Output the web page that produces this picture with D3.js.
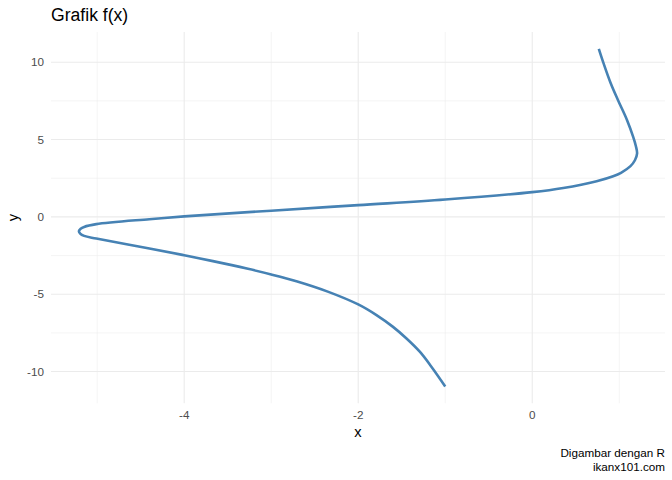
<!DOCTYPE html>
<html>
<head>
<meta charset="utf-8">
<script src="https://cdn.jsdelivr.net/npm/d3@7"></script>
<style>
  body { margin: 0; background: #fff; }
  text { font-family: "Liberation Sans", Arial, sans-serif; }
</style>
</head>
<body>
<svg id="chart" width="672" height="480"></svg>
<script>
// points (y ascending)
const yVals = [-10.96, -9.70, -8.73, -7.86, -7.11, -6.35, -5.66, -4.83, -4.16, -3.72, -3.34, -2.86,
  -2.48, -2.04, -1.40, -1.23, -1.08, -0.92, -0.77, -0.65, -0.47, -0.15, 0.03, 0.40, 0.76, 1.12,
  1.60, 1.87, 2.31, 2.63, 2.85, 3.28, 3.66, 4.1, 4.6, 5.17, 6.25, 7.54, 8.62, 9.92, 10.86]
const xVals = [-1.0, -1.157, -1.29, -1.445, -1.60, -1.79, -2.0, -2.35, -2.71, -3.0, -3.28, -3.67,
  -4.0, -4.40, -5.01, -5.15, -5.195, -5.21, -5.19, -5.15, -5.01, -4.40, -4.0, -3.0, -2.0, -1.0,
  0.0, 0.357, 0.74, 0.93, 1.02, 1.129, 1.18, 1.205, 1.19, 1.16, 1.09, 0.986, 0.903, 0.82, 0.765]

const xTicks = [-4, -2, 0]
const xMinor = [-5, -3, -1, 1]
const yTicks = [-10, -5, 0, 5, 10]
const yMinor = [-7.5, -2.5, 2.5, 7.5]

const pts = yVals.map((y, i) => ({x: xVals[i], y: y}))

let svg = d3.select('#chart')
let pLeft = 51, pRight = 665, pTop = 32, pBottom = 403.3

// ggplot style 5% expansion
let xExt = d3.extent(xVals), yExt = d3.extent(yVals)
let xPad = (xExt[1] - xExt[0]) * 0.05, yPad = (yExt[1] - yExt[0]) * 0.05
let xScale = d3.scaleLinear().domain([xExt[0] - xPad, xExt[1] + xPad]).range([pLeft, pRight])
let yScale = d3.scaleLinear().domain([yExt[0] - yPad, yExt[1] + yPad]).range([pBottom, pTop])

let grid = svg.append('g')
grid.selectAll('.xmin').data(xMinor).enter().append('line')
  .attr('x1', d => xScale(d)).attr('x2', d => xScale(d)).attr('y1', pTop).attr('y2', pBottom)
  .style('stroke', '#ebebeb').style('stroke-width', 0.55)
grid.selectAll('.ymin').data(yMinor).enter().append('line')
  .attr('y1', d => yScale(d)).attr('y2', d => yScale(d)).attr('x1', pLeft).attr('x2', pRight)
  .style('stroke', '#ebebeb').style('stroke-width', 0.55)
grid.selectAll('.xmaj').data(xTicks).enter().append('line')
  .attr('x1', d => xScale(d)).attr('x2', d => xScale(d)).attr('y1', pTop).attr('y2', pBottom)
  .style('stroke', '#ebebeb').style('stroke-width', 1.1)
grid.selectAll('.ymaj').data(yTicks).enter().append('line')
  .attr('y1', d => yScale(d)).attr('y2', d => yScale(d)).attr('x1', pLeft).attr('x2', pRight)
  .style('stroke', '#ebebeb').style('stroke-width', 1.1)

// the curve
let line = d3.line().x(d => xScale(d.x)).y(d => yScale(d.y)).curve(d3.curveCatmullRom.alpha(0.5))
svg.append('path')
  .datum(pts)
  .attr('d', line)
  .style('fill', 'none')
  .style('stroke', '#4682b4')
  .style('stroke-width', 2.6)

// tick labels
svg.append('g').selectAll('text').data(xTicks).enter().append('text')
  .attr('x', d => xScale(d)).attr('y', 418.5)
  .style('text-anchor', 'middle').style('font-size', '11.7px').style('fill', '#4d4d4d')
  .text(d => d)
svg.append('g').selectAll('text').data(yTicks).enter().append('text')
  .attr('x', 44).attr('y', d => yScale(d)).attr('dy', '0.36em')
  .style('text-anchor', 'end').style('font-size', '11.7px').style('fill', '#4d4d4d')
  .text(d => d)

// axis titles
svg.append('text')
  .attr('x', (pLeft + pRight) / 2).attr('y', 437)
  .style('text-anchor', 'middle').style('font-size', '14.7px')
  .text('x')
svg.append('text')
  .attr('transform', `translate(18, ${(pTop + pBottom) / 2}) rotate(270)`)
  .style('text-anchor', 'middle').style('font-size', '14.7px')
  .text('y')

// title + caption
svg.append('text').attr('x', pLeft).attr('y', 21)
  .style('font-size', '17.6px').text('Grafik f(x)')
svg.append('text').attr('x', pRight).attr('y', 457)
  .style('text-anchor', 'end').style('font-size', '11.7px').text('Digambar dengan R')
svg.append('text').attr('x', pRight).attr('y', 470.5)
  .style('text-anchor', 'end').style('font-size', '11.7px').text('ikanx101.com')
</script>
</body>
</html>
